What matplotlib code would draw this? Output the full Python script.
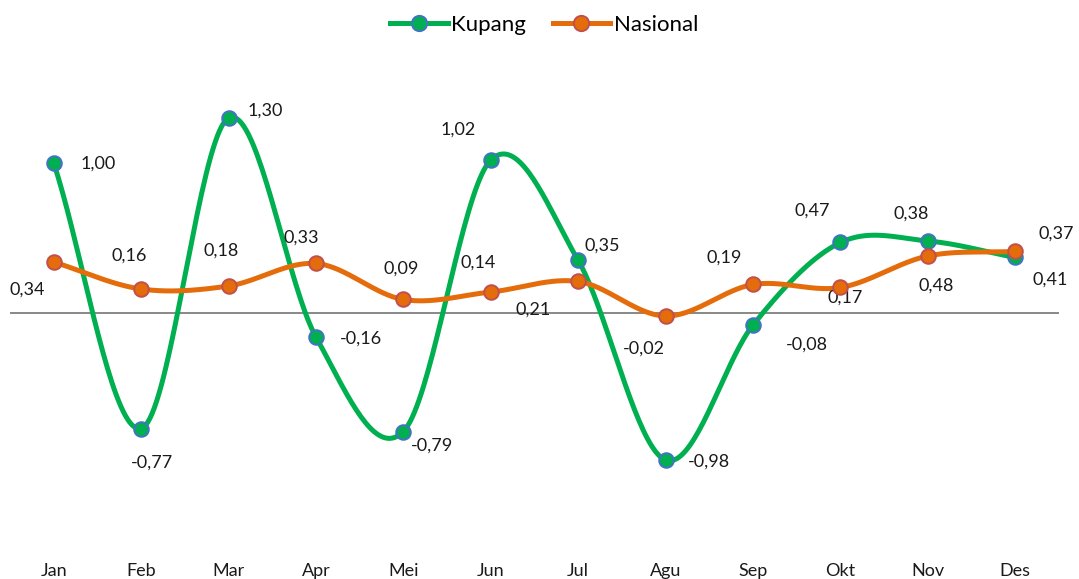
import numpy as np
import matplotlib
matplotlib.use("Agg")
import matplotlib.pyplot as plt
from matplotlib.lines import Line2D

plt.rcParams['font.family'] = ['Lato', 'DejaVu Sans']

bulan = ['Jan', 'Feb', 'Mar', 'Apr', 'Mei', 'Jun', 'Jul', 'Agu', 'Sep', 'Okt', 'Nov', 'Des']
kupang = [1.00, -0.77, 1.30, -0.16, -0.79, 1.02, 0.35, -0.98, -0.08, 0.47, 0.48, 0.37]
nasional = [0.34, 0.16, 0.18, 0.33, 0.09, 0.14, 0.21, -0.02, 0.19, 0.17, 0.38, 0.41]
# label text as printed on the chart
label_kupang = ['1,00', '-0,77', '1,30', '-0,16', '-0,79', '1,02', '0,35', '-0,98', '-0,08', '0,47', '0,38', '0,37']
label_nasional = ['0,34', '0,16', '0,18', '0,33', '0,09', '0,14', '0,21', '-0,02', '0,19', '0,17', '0,48', '0,41']

# label offsets in pixels (dx, dy up)
off_kupang = [(44, -1), (11, -34), (37, 7), (45, -2), (29, -14), (-33, 30),
              (24, 15), (43, -2), (54, -20), (-28, 32), (-17, 27), (41, 24)]
off_nasional = [(-26, -28), (-12, 33), (-7, 35), (-15, 26), (-2, 31), (-13, 29),
                (-45, -28), (-22, -33), (-29, 27), (5, -10), (8, -30), (35, -28)]

GREEN = '#00B050'
ORANGE = '#E46C0A'


def smooth(x, y, n=40):
    # catmull-rom curve through the points (like excel smoothed line)
    x = np.asarray(x, float)
    y = np.asarray(y, float)
    px = np.concatenate([[2 * x[0] - x[1]], x, [2 * x[-1] - x[-2]]])
    py = np.concatenate([[2 * y[0] - y[1]], y, [2 * y[-1] - y[-2]]])
    xs, ys = [], []
    t = np.linspace(0, 1, n)
    for i in range(1, len(px) - 2):
        for p, out in ((px, xs), (py, ys)):
            p0, p1, p2, p3 = p[i - 1], p[i], p[i + 1], p[i + 2]
            out.append(0.5 * ((2 * p1) + (-p0 + p2) * t +
                              (2 * p0 - 5 * p1 + 4 * p2 - p3) * t ** 2 +
                              (-p0 + 3 * p1 - 3 * p2 + p3) * t ** 3))
    return np.concatenate(xs), np.concatenate(ys)


fig = plt.figure(figsize=(10.79, 5.79), dpi=100)
ax = fig.add_axes([10 / 1079, 1 - 555 / 579, 1049 / 1079, 475 / 579])
ax.set_xlim(-0.5, 11.5)
ax.set_ylim(-(555 - 313) / 150, (313 - 80) / 150)

x = np.arange(len(bulan))
ax.axhline(0, color='#7F7F7F', lw=1.3, zorder=1)

sx, sy = smooth(x, kupang)
ax.plot(sx, sy, color=GREEN, lw=3.6, solid_capstyle='round', zorder=3)
ax.plot(x, kupang, 'o', ms=10.5, mfc=GREEN, mec='#4472C4', mew=1.4, zorder=4)
sx, sy = smooth(x, nasional)
ax.plot(sx, sy, color=ORANGE, lw=3.6, solid_capstyle='round', zorder=3)
ax.plot(x, nasional, 'o', ms=10.5, mfc=ORANGE, mec='#C0504D', mew=1.4, zorder=5)

for i in range(len(bulan)):
    ax.annotate(label_kupang[i], (x[i], kupang[i]), xytext=off_kupang[i],
                textcoords='offset pixels', ha='center', va='center', fontsize=13, color='#1a1a1a')
    ax.annotate(label_nasional[i], (x[i], nasional[i]), xytext=off_nasional[i],
                textcoords='offset pixels', ha='center', va='center', fontsize=13, color='#1a1a1a')

# month labels at the bottom
for i, b in enumerate(bulan):
    ax.annotate(b, (x[i], 0), xycoords=ax.get_xaxis_transform(), xytext=(0, -16),
                textcoords='offset pixels', ha='center', va='center', fontsize=13, color='#1a1a1a')

ax.axis('off')

handles = [Line2D([0], [0], color=GREEN, lw=3.6, marker='o', ms=11, mfc=GREEN, mec='#4472C4', mew=1.4),
           Line2D([0], [0], color=ORANGE, lw=3.6, marker='o', ms=11, mfc=ORANGE, mec='#C0504D', mew=1.4)]
fig.legend(handles, ['Kupang', 'Nasional'], loc='center', bbox_to_anchor=(544 / 1079, 1 - 25 / 579),
           ncol=2, frameon=False, fontsize=16, handlelength=2.6, handletextpad=0.15, columnspacing=1.2)

fig.savefig('out.png', dpi=100)
